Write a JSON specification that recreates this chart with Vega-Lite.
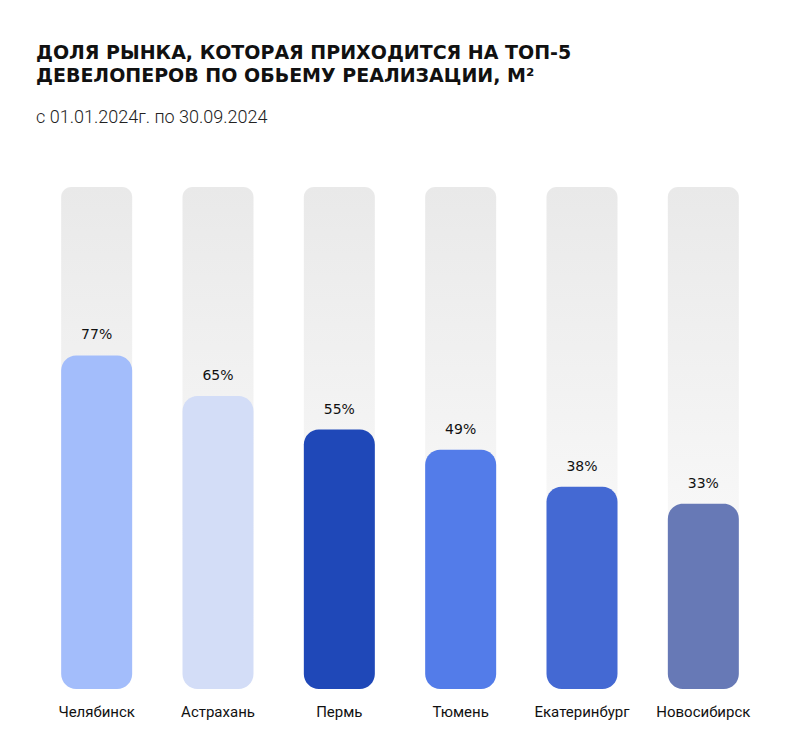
{
  "$schema": "https://vega.github.io/schema/vega-lite/v6.json",
  "width": 728,
  "height": 502,
  "autosize": {"type": "none"},
  "padding": {"left": 36, "top": 187, "right": 36, "bottom": 61},
  "background": "white",
  "config": {"view": {"stroke": null}},
  "title": {
    "text": ["ДОЛЯ РЫНКА, КОТОРАЯ ПРИХОДИТСЯ НА ТОП-5", "ДЕВЕЛОПЕРОВ ПО ОБЬЕМУ РЕАЛИЗАЦИИ, М²"],
    "subtitle": "с 01.01.2024г. по 30.09.2024",
    "anchor": "start",
    "font": "DejaVu Sans",
    "fontSize": 19,
    "fontWeight": "bold",
    "lineHeight": 23,
    "color": "#111111",
    "subtitleFont": "Roboto",
    "subtitleFontSize": 18,
    "subtitleFontWeight": 300,
    "subtitleColor": "#222222",
    "subtitlePadding": 23,
    "offset": 60
  },
  "data": {
    "values": [
      {"city": "Челябинск", "value": 77, "label": "77%"},
      {"city": "Астрахань", "value": 65, "label": "65%"},
      {"city": "Пермь", "value": 55, "label": "55%"},
      {"city": "Тюмень", "value": 49, "label": "49%"},
      {"city": "Екатеринбург", "value": 38, "label": "38%"},
      {"city": "Новосибирск", "value": 33, "label": "33%"}
    ]
  },
  "encoding": {
    "x": {
      "field": "city",
      "type": "nominal",
      "sort": null,
      "scale": {"paddingInner": 0.415, "paddingOuter": 0.2075},
      "axis": {
        "title": null,
        "domain": false,
        "ticks": false,
        "labelAngle": 0,
        "labelFont": "Roboto",
        "labelFontSize": 15,
        "labelColor": "#111111",
        "labelPadding": 15
      }
    }
  },
  "layer": [
    {
      "mark": {
        "type": "bar",
        "width": 71,
        "cornerRadius": 10,
        "color": {
          "gradient": "linear",
          "x1": 0, "y1": 0, "x2": 0, "y2": 1,
          "stops": [
            {"offset": 0, "color": "#e9e9e9"},
            {"offset": 1, "color": "#ffffff"}
          ]
        }
      },
      "encoding": {
        "y": {"datum": 127, "type": "quantitative", "scale": {"domain": [-22, 127], "zero": false, "nice": false}, "axis": null},
        "y2": {"datum": -22}
      }
    },
    {
      "mark": {"type": "bar", "width": 71, "cornerRadius": 15},
      "encoding": {
        "y": {"field": "value", "type": "quantitative"},
        "y2": {"datum": -22},
        "color": {
          "field": "city",
          "type": "nominal",
          "legend": null,
          "scale": {
            "domain": ["Челябинск", "Астрахань", "Пермь", "Тюмень", "Екатеринбург", "Новосибирск"],
            "range": ["#a3bdfb", "#d3ddf7", "#1f48b8", "#537ce9", "#4469d3", "#6779b6"]
          }
        }
      }
    },
    {
      "mark": {"type": "text", "baseline": "middle", "dy": -20, "font": "DejaVu Sans", "fontSize": 14, "color": "#111111"},
      "encoding": {
        "y": {"field": "value", "type": "quantitative"},
        "text": {"field": "label"}
      }
    }
  ]
}
